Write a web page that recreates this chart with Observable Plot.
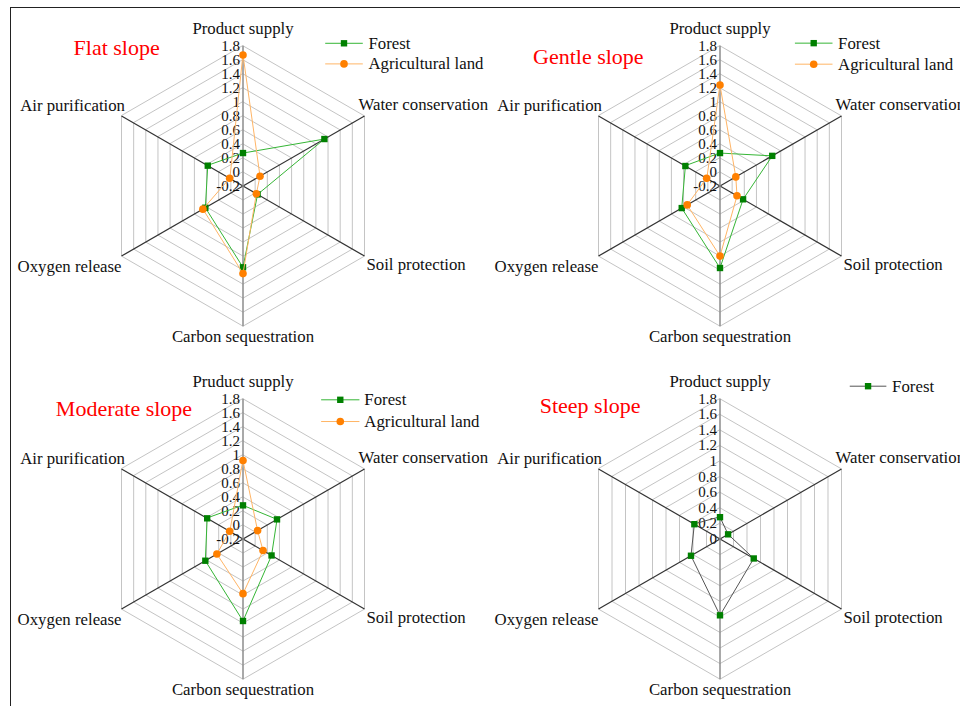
<!DOCTYPE html>
<html><head><meta charset="utf-8">
<script src="https://cdn.jsdelivr.net/npm/d3@7"></script>
<script src="https://cdn.jsdelivr.net/npm/@observablehq/plot@0.6"></script>
<style>
html,body{margin:0;padding:0;background:#fff;}
#wrap{position:relative;width:960px;height:706px;overflow:hidden;}
#border{position:absolute;left:10px;top:6.5px;width:1000px;height:800px;border-left:1.5px solid #222;border-top:1.5px solid #222;pointer-events:none;}
svg{display:block;}
</style></head><body><div id="wrap"><div id="border"></div></div>
<script>
// ---------- data ----------
const panelTitles = ["Flat slope", "Gentle slope", "Moderate slope", "Steep slope"];
const axisNames = ["Product supply", "Water conservation", "Soil protection", "Carbon sequestration", "Oxygen release", "Air purification"];
const axisNamesModerate = ["Pruduct supply", "Water conservation", "Soil protection", "Carbon sequestration", "Oxygen release", "Air purification"];
const seriesNames = ["Forest", "Agricultural land"];

const flatForest     = [0.27, 1.14, 0.04, 0.96, 0.42, 0.38];
const flatAgri       = [1.67, 0.08, 0.02, 1.05, 0.46, 0.02];
const gentleForest   = [0.27, 0.66, 0.18, 0.97, 0.43, 0.37];
const gentleAgri     = [1.24, 0.06, 0.08, 0.80, 0.34, 0.02];
const moderateForest = [0.28, 0.36, 0.27, 0.97, 0.42, 0.39];
const moderateAgri   = [0.92, 0.04, 0.13, 0.58, 0.23, 0.02];
const steepForest    = [0.28, 0.12, 0.50, 0.98, 0.43, 0.38];

const ticksFull  = [-0.2, 0, 0.2, 0.4, 0.6, 0.8, 1, 1.2, 1.4, 1.6, 1.8];
const ticksSteep = [0, 0.2, 0.4, 0.6, 0.8, 1, 1.2, 1.4, 1.6, 1.8];
const tickLabelsFull  = ["-0.2", "0", "0.2", "0.4", "0.6", "0.8", "1", "1.2", "1.4", "1.6", "1.8"];
const tickLabelsSteep = ["0", "0.2", "0.4", "0.6", "0.8", "1", "1.2", "1.4", "1.6", "1.8"];

// ---------- layout ----------
const panelCol = [0, 1, 0, 1];
const panelRow = [0, 0, 1, 1];
const panelAxisNames = [axisNames, axisNames, axisNamesModerate, axisNames];
const panelForest = [flatForest, gentleForest, moderateForest, steepForest];
const panelAgri = [flatAgri, gentleAgri, moderateAgri, null];
const panelTicks = [ticksFull, ticksFull, ticksFull, ticksSteep];
const panelTickLabels = [tickLabelsFull, tickLabelsFull, tickLabelsFull, tickLabelsSteep];
const titlePos = [[-1.208, 0.986], [-1.333, 0.924], [-1.334, 0.929], [-1.285, 0.95]];
const legendX = [[0.586, 0.854, 0.894], [0.534, 0.802, 0.842], [0.557, 0.83, 0.865], [0.925, 1.186, 1.227]];
const legendY = [[1.018, 0.871], [1.019, 0.869], [0.993, 0.838], [1.09]];
const labelAnchor = ["middle", "start", "start", "middle", "end", "end"];
const labelDx = [0, -6, 2, 0, 0, 3.5];
const labelDy = [-17, -11.5, 9, 10.6, 10.1, -10.6];

const FONT = "'Liberation Serif', 'Times New Roman', serif";
const GREEN_LINE = "#35b535", GREEN_MARK = "#008000";
const ORANGE_LINE = "#ffb566", ORANGE_MARK = "#ff8000";
const STEEP_LINE = "#555555";

// ---------- derived tables ----------
const ang = i => i * Math.PI / 3;
function norm(p, v) { const t = panelTicks[p]; const lo = t[0], hi = t[t.length - 1]; return (v - lo) / (hi - lo); }

const rings = [], spokes = [], tickRows = [], labelRows = [], seriesRows = [], titleRows = [], legendLines = [], legendTexts = [];
for (let p = 0; p < 4; p++) {
  const fx = panelCol[p], fy = panelRow[p];
  panelTicks[p].forEach((t, k) => {
    const r = norm(p, t);
    tickRows.push({fx, fy, x: 0, y: r, text: panelTickLabels[p][k]});
    if (k > 0) for (let i = 0; i < 6; i++) rings.push({fx, fy, ring: p + ":" + k, x: r * Math.sin(ang(i)), y: r * Math.cos(ang(i))});
  });
  for (let i = 0; i < 6; i++) {
    spokes.push({fx, fy, i, x2: Math.sin(ang(i)), y2: Math.cos(ang(i)), vertical: i % 3 === 0});
    labelRows.push({fx, fy, i, x: Math.sin(ang(i)), y: Math.cos(ang(i)), text: panelAxisNames[p][i]});
  }
  const series = [["Forest", panelForest[p]], ["Agricultural land", panelAgri[p]]];
  series.forEach(([s, vals]) => {
    if (!vals) return;
    vals.forEach((v, i) => {
      const r = norm(p, v);
      seriesRows.push({fx, fy, p, series: s, key: p + s, x: r * Math.sin(ang(i)), y: r * Math.cos(ang(i))});
    });
  });
  titleRows.push({fx, fy, x: titlePos[p][0], y: titlePos[p][1], text: panelTitles[p]});
  legendY[p].forEach((ly, j) => {
    legendLines.push({fx, fy, p, series: seriesNames[j], x1: legendX[p][0], x2: legendX[p][1], xm: (legendX[p][0] + legendX[p][1]) / 2, y: ly});
    legendTexts.push({fx, fy, x: legendX[p][2], y: ly, text: seriesNames[j]});
  });
}

const isForest = d => d.series === "Forest";

const marks = [
  Plot.line(rings, {x: "x", y: "y", z: "ring", fx: "fx", fy: "fy", curve: "linear-closed", stroke: "#c4c4c4", strokeWidth: 1}),
  Plot.link(spokes.filter(d => !d.vertical), {x1: 0, y1: 0, x2: "x2", y2: "y2", fx: "fx", fy: "fy", stroke: "#333", strokeWidth: 1.2}),
  Plot.link(spokes.filter(d => d.vertical), {x1: 0, y1: 0, x2: "x2", y2: "y2", fx: "fx", fy: "fy", stroke: "#8c8c8c", strokeWidth: 1.5}),
  Plot.text(tickRows, {x: "x", y: "y", text: "text", fx: "fx", fy: "fy", textAnchor: "end", dx: -3, fontSize: 15, fill: "#111"}),
];
for (let i = 0; i < 6; i++) {
  marks.push(Plot.text(labelRows.filter(d => d.i === i), {x: "x", y: "y", text: "text", fx: "fx", fy: "fy", textAnchor: labelAnchor[i], dx: labelDx[i], dy: labelDy[i], fontSize: 16.8, fill: "#111"}));
}
// Forest
const forestRows = seriesRows.filter(isForest);
marks.push(Plot.line(forestRows.filter(d => d.p < 3), {x: "x", y: "y", z: "key", fx: "fx", fy: "fy", curve: "linear-closed", stroke: GREEN_LINE, strokeWidth: 1}));
marks.push(Plot.line(forestRows.filter(d => d.p === 3), {x: "x", y: "y", z: "key", fx: "fx", fy: "fy", curve: "linear-closed", stroke: STEEP_LINE, strokeWidth: 1}));
marks.push(Plot.dot(forestRows, {x: "x", y: "y", fx: "fx", fy: "fy", symbol: "square", r: 3.6, fill: GREEN_MARK}));
// Agricultural land
const agriRows = seriesRows.filter(d => !isForest(d));
marks.push(Plot.line(agriRows, {x: "x", y: "y", z: "key", fx: "fx", fy: "fy", curve: "linear-closed", stroke: ORANGE_LINE, strokeWidth: 1}));
marks.push(Plot.dot(agriRows, {x: "x", y: "y", fx: "fx", fy: "fy", symbol: "circle", r: 3.8, fill: ORANGE_MARK}));
// Titles
marks.push(Plot.text(titleRows, {x: "x", y: "y", text: "text", fx: "fx", fy: "fy", textAnchor: "start", fontSize: 22, fill: "#ff0000"}));
// Legends
const lf = legendLines.filter(isForest), la = legendLines.filter(d => !isForest(d));
marks.push(Plot.link(lf.filter(d => d.p < 3), {x1: "x1", x2: "x2", y1: "y", y2: "y", fx: "fx", fy: "fy", stroke: GREEN_LINE, strokeWidth: 1}));
marks.push(Plot.link(lf.filter(d => d.p === 3), {x1: "x1", x2: "x2", y1: "y", y2: "y", fx: "fx", fy: "fy", stroke: STEEP_LINE, strokeWidth: 1}));
marks.push(Plot.dot(lf, {x: "xm", y: "y", fx: "fx", fy: "fy", symbol: "square", r: 3.6, fill: GREEN_MARK}));
marks.push(Plot.link(la, {x1: "x1", x2: "x2", y1: "y", y2: "y", fx: "fx", fy: "fy", stroke: ORANGE_LINE, strokeWidth: 1}));
marks.push(Plot.dot(la, {x: "xm", y: "y", fx: "fx", fy: "fy", symbol: "circle", r: 3.8, fill: ORANGE_MARK}));
marks.push(Plot.text(legendTexts, {x: "x", y: "y", text: "text", fx: "fx", fy: "fy", textAnchor: "start", fontSize: 16.8, fill: "#111"}));

const R = 140.5; // radius in px of the outer ring
const fxRange = [2.75, 958.25], fyRange = [7.8, 715.4];
const hx = (fxRange[1] - fxRange[0]) / 4 / R, hy = (fyRange[1] - fyRange[0]) / 4 / R;

const chart = Plot.plot({
  width: 960, height: 706,
  margin: 0,
  style: {fontFamily: FONT, background: "transparent", overflow: "visible"},
  fx: {domain: [0, 1], range: fxRange, padding: 0, axis: null},
  fy: {domain: [0, 1], range: fyRange, padding: 0, axis: null},
  x: {domain: [-hx, hx], axis: null},
  y: {domain: [-hy, hy], axis: null},
  marks
});
document.getElementById("wrap").prepend(chart);
</script>
</body></html>
